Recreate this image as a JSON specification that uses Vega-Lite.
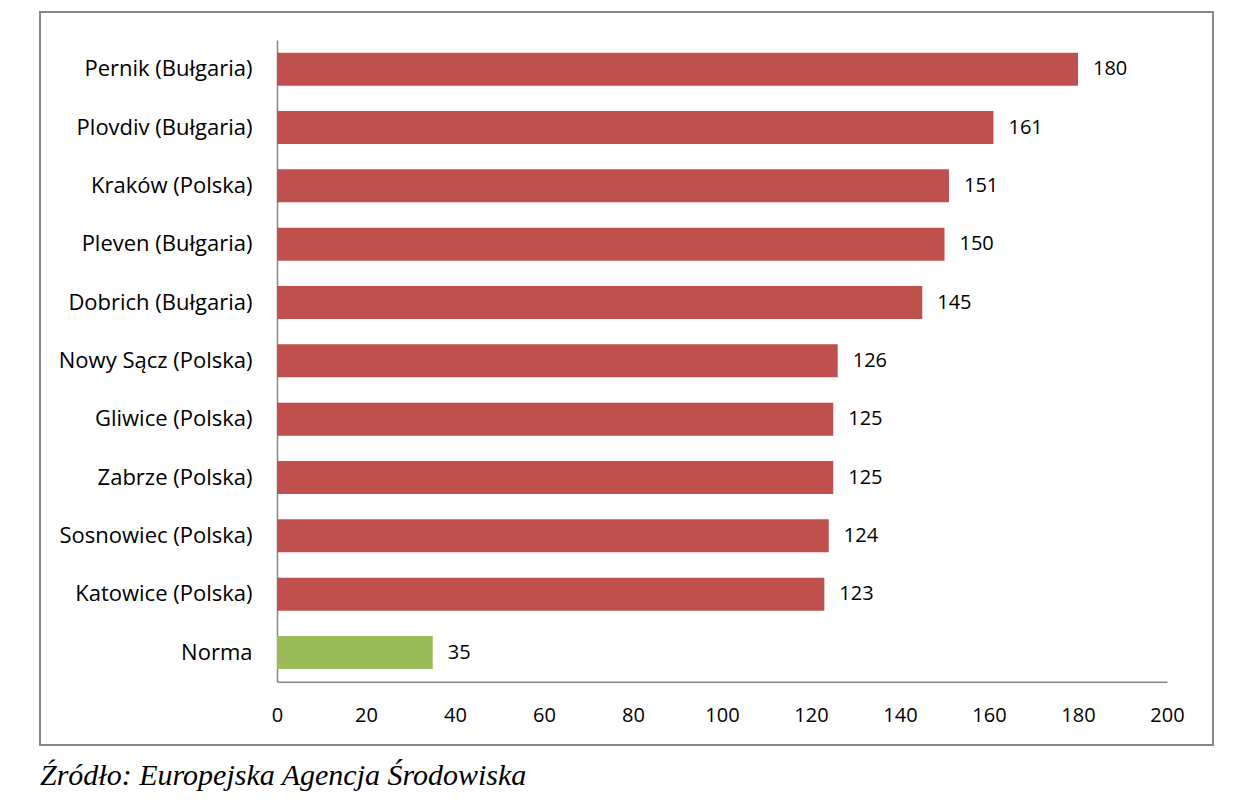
{
  "$schema": "https://vega.github.io/schema/vega-lite/v6.json",
  "autosize": "none",
  "width": 1173,
  "height": 733,
  "padding": {"left": 40, "top": 12, "right": 38, "bottom": 55},
  "background": "white",
  "title": {
    "text": "Źródło: Europejska Agencja Środowiska",
    "orient": "bottom",
    "anchor": "start",
    "frame": "group",
    "font": "Liberation Serif",
    "fontStyle": "italic",
    "fontWeight": "normal",
    "fontSize": 30,
    "color": "black",
    "baseline": "alphabetic",
    "offset": 40
  },
  "config": {
    "view": {"stroke": "#878787", "strokeWidth": 2},
    "axis": {"grid": false, "ticks": false, "tickSize": 0, "domainColor": "#868686", "domainWidth": 1.5, "labelFont": "Open Sans", "labelFontSize": 20, "labelColor": "black", "labelLimit": 400, "title": null}
  },
  "data": {
    "values": [
      {"city": "Pernik (Bułgaria)", "value": 180, "group": "miasto"},
      {"city": "Plovdiv (Bułgaria)", "value": 161, "group": "miasto"},
      {"city": "Kraków (Polska)", "value": 151, "group": "miasto"},
      {"city": "Pleven (Bułgaria)", "value": 150, "group": "miasto"},
      {"city": "Dobrich (Bułgaria)", "value": 145, "group": "miasto"},
      {"city": "Nowy Sącz (Polska)", "value": 126, "group": "miasto"},
      {"city": "Gliwice (Polska)", "value": 125, "group": "miasto"},
      {"city": "Zabrze (Polska)", "value": 125, "group": "miasto"},
      {"city": "Sosnowiec (Polska)", "value": 124, "group": "miasto"},
      {"city": "Katowice (Polska)", "value": 123, "group": "miasto"},
      {"city": "Norma", "value": 35, "group": "norma"}
    ]
  },
  "encoding": {
    "y": {
      "field": "city",
      "type": "nominal",
      "sort": null,
      "scale": {"range": [28, 669.7], "paddingInner": 0.434, "paddingOuter": 0.217},
      "axis": {"offset": -237, "labelPadding": 25, "labelFontSize": 22, "labelLimit": 400, "title": null}
    },
    "x": {
      "field": "value",
      "type": "quantitative",
      "scale": {"domain": [0, 200], "range": [237, 1127], "nice": false, "zero": true},
      "axis": {"offset": -63.3, "values": [0, 20, 40, 60, 80, 100, 120, 140, 160, 180, 200], "labelPadding": 24, "labelFlush": false, "title": null}
    }
  },
  "layer": [
    {
      "mark": {"type": "bar"},
      "encoding": {
        "color": {"field": "group", "type": "nominal", "scale": {"domain": ["miasto", "norma"], "range": ["#C0504D", "#9BBB59"]}, "legend": null}
      }
    },
    {
      "mark": {"type": "text", "align": "left", "baseline": "middle", "dx": 15, "font": "Open Sans", "fontSize": 20, "color": "black"},
      "encoding": {"text": {"field": "value", "type": "quantitative"}}
    }
  ]
}
